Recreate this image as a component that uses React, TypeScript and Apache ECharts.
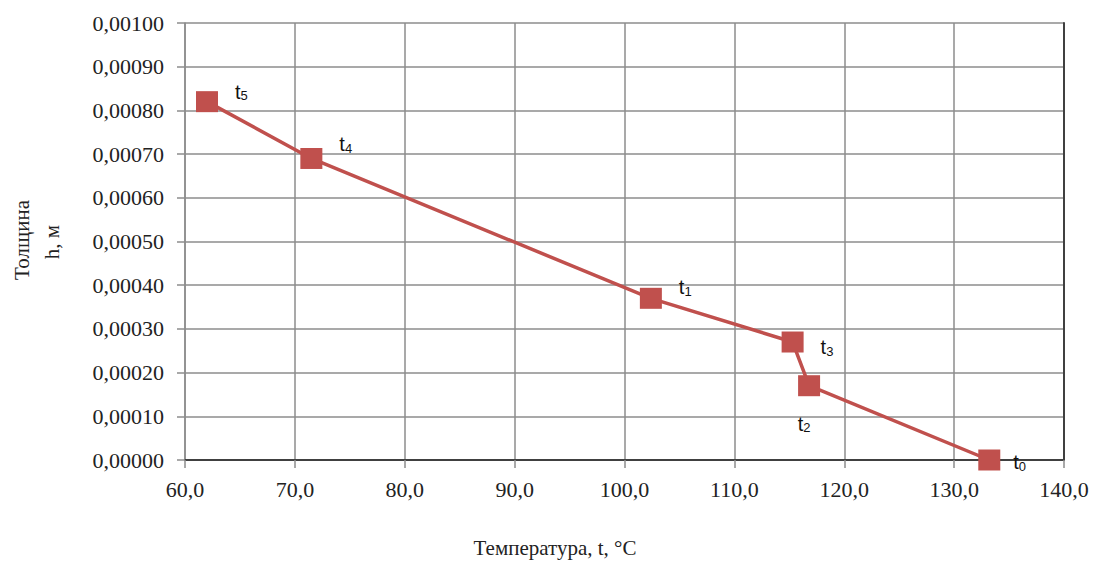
import React, { useEffect, useRef } from "react";
import * as echarts from "echarts";

const temperatures = [62.0, 71.5, 102.4, 115.3, 116.8, 133.2];
const thickness = [0.00082, 0.00069, 0.00037, 0.00027, 0.00017, 0.0];
const pointNames = ["5", "4", "1", "3", "2", "0"];
const xTitle = "Температура, t, °C";
const yTitle1 = "Толщина";
const yTitle2 = "h, м";

const labelLayouts: any[] = [
  { position: "right", offset: [12, -10] },
  { position: "right", offset: [12, -14] },
  { position: "right", offset: [12, -11] },
  { position: "right", offset: [12, 5] },
  { position: "bottom", offset: [-5, 12] },
  { position: "right", offset: [8, 2] },
];

const SERIF = "'Liberation Serif', 'Times New Roman', 'DejaVu Serif', serif";
const SANS = "'Liberation Sans', Arial, sans-serif";
const RED = "#c0504d";

export default function App() {
  const ref = useRef<HTMLDivElement>(null);
  useEffect(() => {
    document.body.style.margin = "0";
    const chart = echarts.init(ref.current!, null, { renderer: "svg" });
    const data = temperatures.map((t, i) => ({
      value: [t, thickness[i]],
      label: {
        show: true,
        ...labelLayouts[i],
        formatter: `{t|t}{s|${pointNames[i]}}`,
      },
    }));
    const gridLine = { color: "#8c8c8c", width: 1.5 };
    chart.setOption({
      animation: false,
      backgroundColor: "#ffffff",
      textStyle: { fontFamily: SERIF },
      grid: { left: 185, right: 30, top: 23, bottom: 105 },
      xAxis: [
        {
          type: "value",
          min: 60,
          max: 140,
          interval: 10,
          axisLine: { show: false },
          axisTick: { show: true, length: 8, lineStyle: gridLine },
          splitLine: { show: true, lineStyle: gridLine },
          axisLabel: {
            margin: 18,
            fontFamily: SERIF,
            fontSize: 22,
            color: "#222",
            formatter: (v: number) => v.toFixed(1).replace(".", ","),
          },
        },
        {
          type: "value",
          position: "top",
          min: 60,
          max: 140,
          axisLine: { show: true, lineStyle: { color: "#404040", width: 2 } },
          axisTick: { show: false },
          axisLabel: { show: false },
          splitLine: { show: false },
        },
      ],
      yAxis: [
        {
          type: "value",
          min: 0,
          max: 0.001,
          interval: 0.0001,
          axisLine: { show: true, lineStyle: gridLine },
          axisTick: { show: true, length: 8, lineStyle: gridLine },
          splitLine: { show: true, lineStyle: gridLine },
          axisLabel: {
            margin: 21,
            fontFamily: SERIF,
            fontSize: 22,
            color: "#222",
            formatter: (v: number) => v.toFixed(5).replace(".", ","),
          },
        },
        {
          type: "value",
          position: "right",
          min: 0,
          max: 0.001,
          axisLine: { show: true, lineStyle: { color: "#404040", width: 2 } },
          axisTick: { show: false },
          axisLabel: { show: false },
          splitLine: { show: false },
        },
      ],
      series: [
        {
          type: "line",
          data,
          symbol: "rect",
          symbolSize: [22, 21],
          lineStyle: { color: RED, width: 3.5 },
          itemStyle: { color: RED },
          label: {
            color: "#111",
            rich: {
              t: { fontFamily: SANS, fontSize: 20, color: "#111" },
              s: {
                fontFamily: SANS,
                fontSize: 13,
                color: "#111",
                verticalAlign: "bottom",
                padding: [8, 0, 0, 0],
              },
            },
          },
        },
      ],
      graphic: [
        {
          type: "text",
          x: 555,
          y: 548,
          style: {
            text: xTitle,
            fontFamily: SERIF,
            fontSize: 21,
            fill: "#222",
            align: "center",
            verticalAlign: "middle",
          },
        },
        {
          type: "text",
          x: 22,
          y: 240,
          rotation: Math.PI / 2,
          style: {
            text: yTitle1,
            fontFamily: SERIF,
            fontSize: 21,
            fill: "#222",
            align: "center",
            verticalAlign: "middle",
          },
        },
        {
          type: "text",
          x: 52,
          y: 242,
          rotation: Math.PI / 2,
          style: {
            text: yTitle2,
            fontFamily: SERIF,
            fontSize: 21,
            fill: "#222",
            align: "center",
            verticalAlign: "middle",
          },
        },
      ],
    });
    return () => chart.dispose();
  }, []);
  return <div ref={ref} style={{ width: 1094, height: 565 }} />;
}
